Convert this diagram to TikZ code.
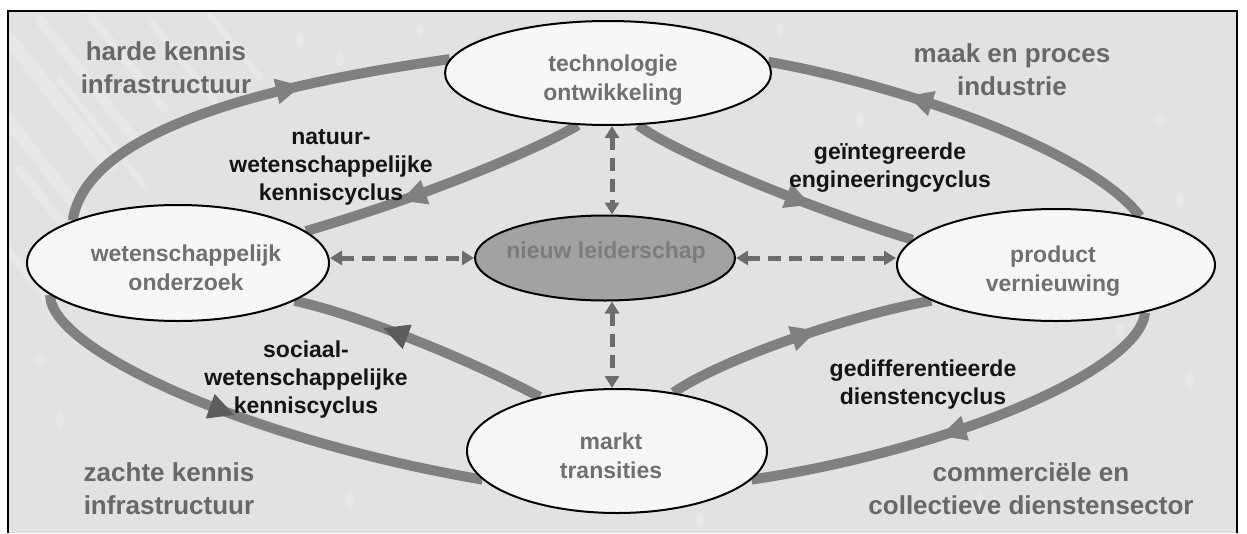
\documentclass[tikz,border=0pt]{standalone}
\usepackage{fontspec}
\setmainfont{Liberation Sans}
\usetikzlibrary{shapes.geometric,arrows.meta,decorations.markings}

\definecolor{panel}{HTML}{E2E2E2}
\definecolor{flowgray}{HTML}{808080}
\definecolor{headgray}{HTML}{5C5C5C}
\definecolor{linkgray}{HTML}{6C6C6C}
\definecolor{labelgray}{HTML}{686868}
\definecolor{nodegray}{HTML}{707070}
\definecolor{bubble}{HTML}{F7F7F7}
\definecolor{hub}{HTML}{A2A2A2}
\definecolor{hubtext}{HTML}{7C7C7C}
\definecolor{cycletext}{HTML}{141414}

\pgfdeclarelayer{panel}
\pgfdeclarelayer{links}
\pgfsetlayers{panel,links,main}

\tikzset{
  bubblenode/.style={ellipse, draw=black, line width=2pt, fill=bubble, inner sep=0pt},
  bubbletext/.style={font=\fontsize{23}{29}\selectfont\bfseries, text=nodegray, align=center, inner sep=0pt},
  sectorlabel/.style={font=\fontsize{26}{33}\selectfont\bfseries, text=labelgray, align=center, inner sep=0pt, anchor=north},
  cyclelabel/.style={font=\fontsize{23}{28}\selectfont\bfseries, text=cycletext, align=center, inner sep=0pt, anchor=north},
  flow/.style={draw=flowgray, line width=10pt,
    postaction={decorate, decoration={markings,
      mark=at position #1 with {\arrow{Triangle[length=26pt,width=24pt,color=flowgray]}}}}},
  darkflow/.style={draw=flowgray, line width=10pt,
    postaction={decorate, decoration={markings,
      mark=at position #1 with {\arrow{Triangle[length=26pt,width=24pt,color=headgray]}}}}},
  dlink/.style={draw=linkgray, line width=5pt, dash pattern=on 13pt off 8pt,
    {Triangle[length=12pt,width=14pt]}-{Triangle[length=12pt,width=14pt]}},
}

\begin{document}
\begin{tikzpicture}[x=1pt,y=-1pt]
  \useasboundingbox (0,0) rectangle (1247,533);

  % panel with a faint streaked texture
  \begin{pgfonlayer}{panel}
    \fill[white] (0,0) rectangle (1247,533);
    \fill[panel] (8,11) rectangle (1237,533);
    \begin{scope}
      \clip (8,11) rectangle (1237,533);
      \foreach \sx/\sy/\len/\w in {10/40/160/14, 40/20/150/10, 90/15/120/8, 0/110/170/12,
          20/170/110/9, 150/20/110/7, 0/240/90/8, 210/15/80/6, 60/80/140/6}{
        \draw[white, opacity=0.2, line width=\w pt, line cap=round]
          (\sx,\sy) -- ++(\len*0.62,\len*0.78);
      }
      \foreach \dx/\dy in {300/40, 340/60, 420/30, 780/30, 860/120, 1100/60, 1160/120,
          1180/200, 1120/330, 1190/380, 980/500, 700/520, 350/500, 60/420, 40/360}{
        \fill[white, opacity=0.18] (\dx,\dy) ellipse (4pt and 7pt);
      }
    \end{scope}
    \draw[black, line width=2.5pt] (8,533) -- (8,11) -- (1237,11) -- (1237,533);
  \end{pgfonlayer}

  % the five fields
  \node[bubblenode, minimum width=326pt, minimum height=104pt,
        label={[bubbletext, xshift=5pt, yshift=-7pt]center:technologie\\ontwikkeling}]
        (tech) at (608,73) {};
  \node[bubblenode, minimum width=302pt, minimum height=116pt,
        label={[bubbletext, xshift=8pt, yshift=-5pt]center:wetenschappelijk\\onderzoek}]
        (wo) at (178,263) {};
  \node[bubblenode, minimum width=318pt, minimum height=112pt,
        label={[bubbletext, xshift=-3pt, yshift=-6pt]center:product\\vernieuwing}]
        (pv) at (1056,265) {};
  \node[bubblenode, minimum width=300pt, minimum height=124pt,
        label={[bubbletext, xshift=-6pt, yshift=-5pt]center:markt\\transities}]
        (mt) at (617,451) {};
  \node[bubblenode, fill=hub, minimum width=260pt, minimum height=85pt,
        label={[bubbletext, text=hubtext, xshift=1pt, yshift=5pt]center:nieuw leiderschap}]
        (nl) at (605,258) {};

  \begin{pgfonlayer}{links}
    % outer loops
    \draw[flow=0.65] (wo.158) .. controls (85,140) and (230,90) .. (tech.175);
    \draw[flow=0.65] (pv.30) .. controls (1090,150) and (900,85) .. (tech.4);
    \draw[darkflow=0.47] (wo.194) .. controls (50,350) and (250,440) .. (mt.192);
    \draw[flow=0.56] (pv.332) .. controls (1140,370) and (950,450) .. (mt.348);

    % inner loops
    \draw[flow=0.66] (tech.240) .. controls (540,148) and (430,195) .. (wo.14);
    \draw[flow=0.64] (tech.300) .. controls (670,150) and (800,205) .. (pv.170);
    \draw[darkflow=0.65] (mt.145) .. controls (470,360) and (360,315) .. (wo.342);
    \draw[flow=0.57] (mt.46) .. controls (720,360) and (850,315) .. (pv.196);

    % links with the centre
    \coordinate (vx) at (612,0);
    \draw[dlink] (tech.south -| vx) -- (nl.north -| vx);
    \draw[dlink] (nl.south -| vx) -- (mt.north -| vx);
    \draw[dlink] (wo.east |- nl.west) -- (nl.west);
    \draw[dlink] (nl.east) -- (pv.west |- nl.east);
  \end{pgfonlayer}

  % sector labels
  \node[sectorlabel] (hk) at (166,41) {harde kennis\\infrastructuur};
  \node[sectorlabel] (mp) at (1012,43) {maak en proces\\industrie};
  \node[sectorlabel] (zk) at (169,462) {zachte kennis\\infrastructuur};
  \node[sectorlabel] (cd) at (1031,462) {commerciële en\\collectieve dienstensector};

  % cycle labels
  \node[cyclelabel] (nw) at (331,129) {natuur-\\wetenschappelijke\\kenniscyclus};
  \node[cyclelabel] (ge) at (890,143) {geïntegreerde\\engineeringcyclus};
  \node[cyclelabel] (sw) at (306,341) {sociaal-\\wetenschappelijke\\kenniscyclus};
  \node[cyclelabel] (gd) at (923,360) {gedifferentieerde\\dienstencyclus};
\end{tikzpicture}
\end{document}
